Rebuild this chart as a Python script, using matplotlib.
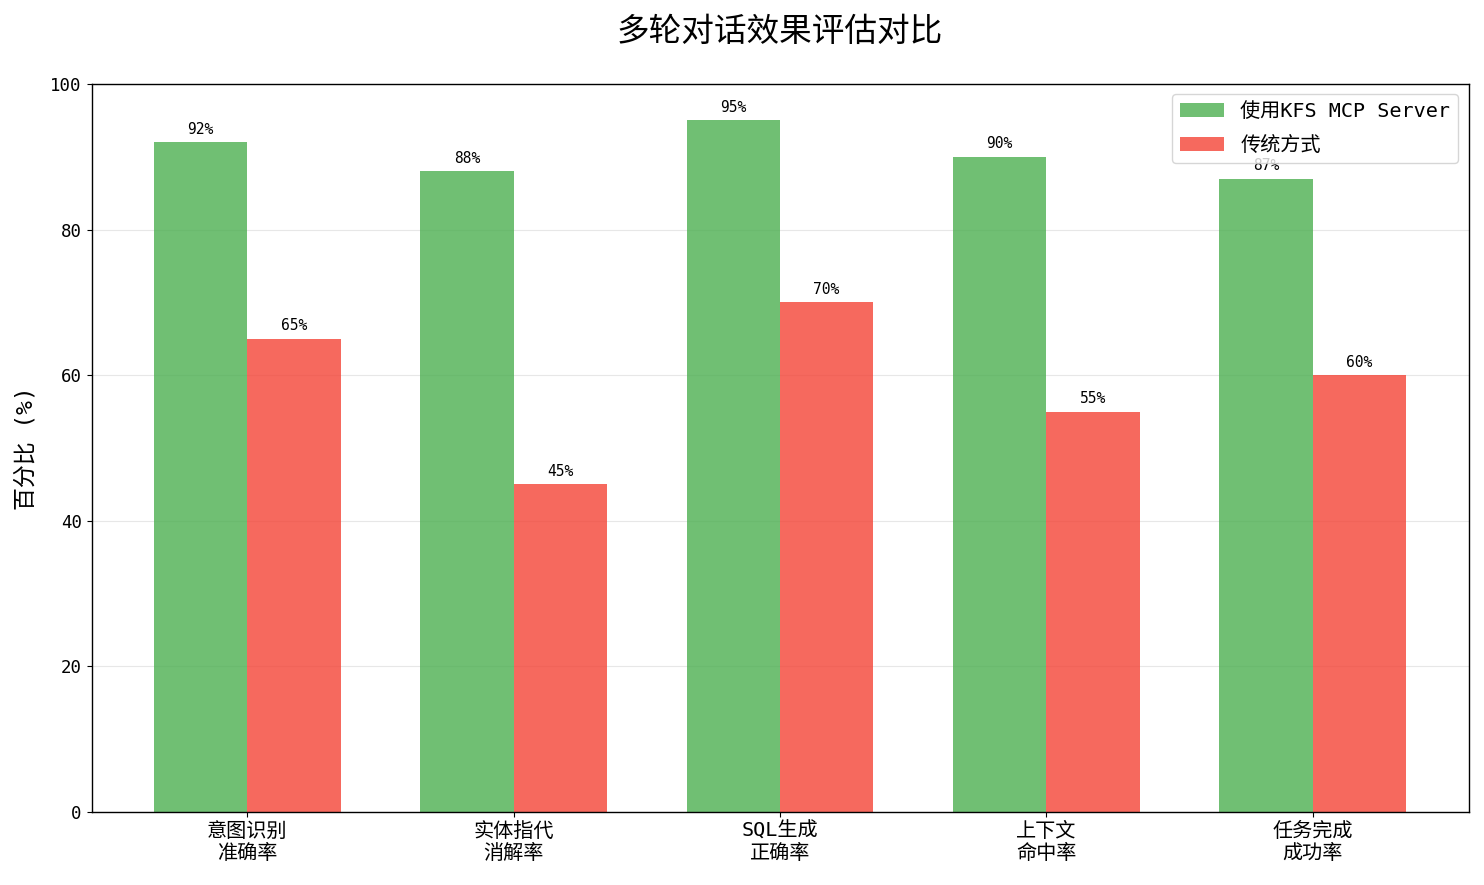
import matplotlib
matplotlib.use("Agg")
import matplotlib.pyplot as plt
import numpy as np

plt.rcParams['font.family'] = ['DejaVu Sans Mono', 'Noto Sans CJK SC']
plt.rcParams['axes.unicode_minus'] = False

categories = ['意图识别\n准确率', '实体指代\n消解率', 'SQL生成\n正确率', '上下文\n命中率', '任务完成\n成功率']
kfs_values = [92, 88, 95, 90, 87]
trad_values = [65, 45, 70, 55, 60]
series_names = ['使用KFS MCP Server', '传统方式']

fig = plt.figure(figsize=(14.84, 8.85), dpi=100)
ax = fig.add_axes([91.5/1484, 1-812/885, (1468.5-91.5)/1484, (812-84)/885])

x = np.arange(len(categories))
w = 0.35
b1 = ax.bar(x - w/2, kfs_values, w, label=series_names[0], color='#4CAF50', alpha=0.8)
b2 = ax.bar(x + w/2, trad_values, w, label=series_names[1], color='#F44336', alpha=0.8)

for bars in (b1, b2):
    for r in bars:
        h = r.get_height()
        ax.annotate(f'{h:.0f}%', xy=(r.get_x() + r.get_width()/2, h),
                    xytext=(0, 4), textcoords='offset points',
                    ha='center', va='bottom', fontsize=10.5)

ax.set_ylim(0, 100)
ax.set_xticks(x)
ax.set_xticklabels(categories, fontsize=14.5)
ax.tick_params(axis='y', labelsize=12.5)
ax.set_ylabel('百分比 (%)', fontsize=16.5, labelpad=9)
ax.set_title('多轮对话效果评估对比', fontsize=23.5, pad=31)
ax.grid(axis='y', alpha=0.3)
ax.set_axisbelow(True)
for s in ax.spines.values():
    s.set_linewidth(1.0)
ax.legend(fontsize=14.5, loc='upper right', labelspacing=0.75,
          handlelength=2.2, borderaxespad=0.5)

fig.savefig('out.png', dpi=100)
